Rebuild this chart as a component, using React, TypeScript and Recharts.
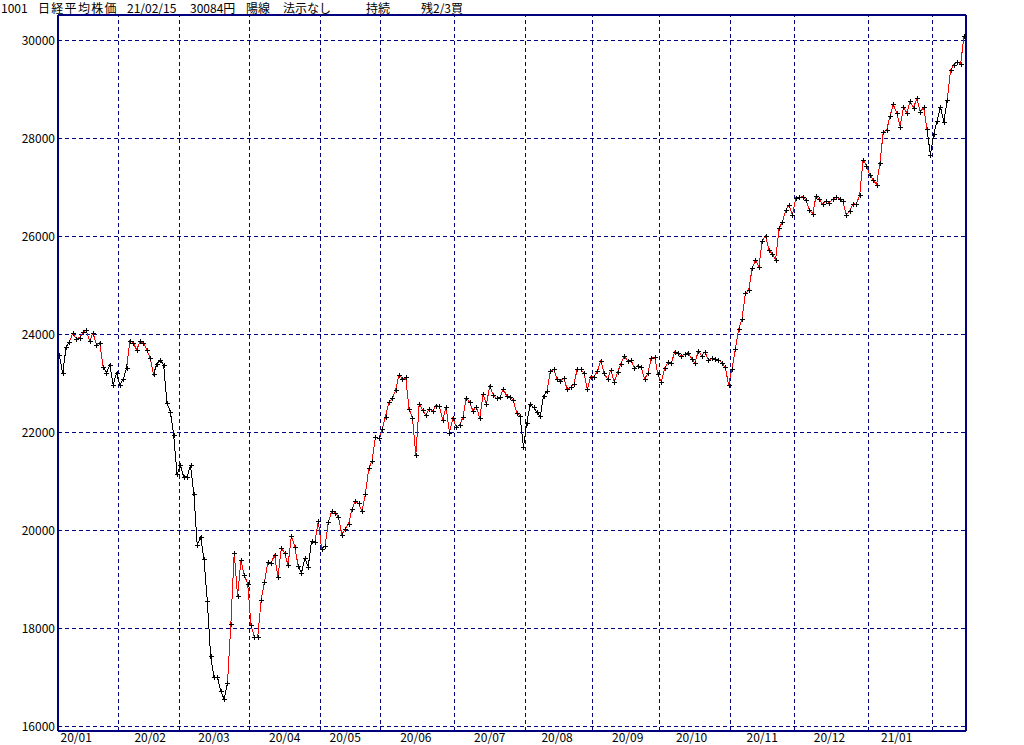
import { LineChart, Line, XAxis, YAxis, CartesianGrid, ReferenceLine } from "recharts";

// Nikkei 225 daily closes, 2020/01/07 .. 2021/02/15, one array per month
const MONTHS = ["20/01", "20/02", "20/03", "20/04", "20/05", "20/06", "20/07", "20/08", "20/09", "20/10", "20/11", "20/12", "21/01", "21/02"];

const DAYS = [
  [7, 8, 9, 10, 14, 15, 16, 17, 20, 21, 22, 23, 24, 27, 28, 29, 30, 31],
  [3, 4, 5, 6, 7, 10, 12, 13, 14, 17, 18, 19, 20, 21, 25, 26, 27, 28],
  [2, 3, 4, 5, 6, 9, 10, 11, 12, 13, 16, 17, 18, 19, 23, 24, 25, 26, 27, 30, 31],
  [1, 2, 3, 6, 7, 8, 9, 10, 13, 14, 15, 16, 17, 20, 21, 22, 23, 24, 27, 28, 30],
  [1, 7, 8, 11, 12, 13, 14, 15, 18, 19, 20, 21, 22, 25, 26, 27, 28, 29],
  [1, 2, 3, 4, 5, 8, 9, 10, 11, 12, 15, 16, 17, 18, 19, 22, 23, 24, 25, 26, 29, 30],
  [1, 2, 3, 6, 7, 8, 9, 10, 13, 14, 15, 16, 17, 20, 21, 22, 27, 28, 29, 30, 31],
  [3, 4, 5, 6, 7, 11, 12, 13, 14, 17, 18, 19, 20, 21, 24, 25, 26, 27, 28, 31],
  [1, 2, 3, 4, 7, 8, 9, 10, 11, 14, 15, 16, 17, 18, 23, 24, 25, 28, 29, 30],
  [2, 5, 6, 7, 8, 9, 12, 13, 14, 15, 16, 19, 20, 21, 22, 23, 26, 27, 28, 29, 30],
  [2, 4, 5, 6, 9, 10, 11, 12, 13, 16, 17, 18, 19, 20, 24, 25, 26, 27, 30],
  [1, 2, 3, 4, 7, 8, 9, 10, 11, 14, 15, 16, 17, 18, 21, 22, 23, 24, 25, 28, 29, 30],
  [4, 5, 6, 7, 8, 12, 13, 14, 15, 18, 19, 20, 21, 22, 25, 26, 27, 28, 29],
  [1, 2, 3, 4, 5, 8, 9, 10, 12, 15],
];

const CLOSES = [
  [23576, 23205, 23740, 23851, 24025, 23917, 23933, 24041, 24084, 23865, 24031, 23795, 23827, 23344, 23216, 23379, 22978, 23205],
  [22972, 23085, 23320, 23874, 23828, 23686, 23861, 23828, 23688, 23523, 23194, 23401, 23479, 23387, 22605, 22426, 21948, 21143],
  [21344, 21083, 21100, 21329, 20750, 19699, 19867, 19416, 18560, 17431, 17002, 17012, 16727, 16553, 16888, 18092, 19547, 18665, 19389, 19085, 18917],
  [18065, 17819, 17820, 18576, 18950, 19353, 19346, 19499, 19043, 19639, 19550, 19290, 19897, 19669, 19281, 19138, 19429, 19262, 19783, 19771, 20194],
  [19619, 19675, 20179, 20391, 20366, 20267, 19915, 20037, 20134, 20433, 20595, 20552, 20388, 20742, 21271, 21419, 21916, 21878],
  [22062, 22326, 22614, 22696, 22864, 23178, 23091, 23125, 22473, 22305, 21531, 22582, 22456, 22355, 22479, 22437, 22549, 22534, 22260, 22512, 21995, 22288],
  [22122, 22146, 22306, 22714, 22615, 22439, 22529, 22291, 22785, 22587, 22946, 22770, 22696, 22717, 22884, 22752, 22716, 22657, 22397, 22339, 21710],
  [22195, 22574, 22515, 22418, 22330, 22750, 22844, 23250, 23289, 23097, 23051, 23111, 22881, 22920, 22986, 23297, 23291, 23209, 22883, 23140],
  [23138, 23247, 23466, 23205, 23090, 23274, 23033, 23235, 23406, 23559, 23455, 23476, 23319, 23360, 23346, 23088, 23205, 23512, 23539, 23185],
  [23030, 23312, 23434, 23423, 23647, 23620, 23559, 23602, 23627, 23507, 23411, 23671, 23567, 23639, 23474, 23517, 23494, 23486, 23419, 23332, 22977],
  [23295, 23695, 24105, 24325, 24840, 24906, 25350, 25521, 25386, 25907, 26015, 25728, 25634, 25527, 26166, 26297, 26537, 26645, 26434],
  [26788, 26801, 26809, 26751, 26547, 26467, 26818, 26756, 26653, 26732, 26688, 26757, 26807, 26763, 26714, 26436, 26525, 26668, 26657, 26854, 27568, 27444],
  [27258, 27159, 27056, 27490, 28139, 28164, 28457, 28698, 28519, 28242, 28633, 28523, 28757, 28631, 28822, 28546, 28635, 28197, 27663],
  [28091, 28362, 28647, 28342, 28779, 29389, 29506, 29563, 29520, 30084],
];

// point index ranges [from, to] where the line is drawn black (red elsewhere)
const BLACK_RUNS = [[0, 3], [13, 20], [28, 50], [71, 76], [78, 79], [137, 145], [258, 264]];

const Y_TICKS = [16000, 18000, 20000, 22000, 24000, 26000, 28000, 30000];
const Y_MIN = 15908;
const Y_MAX = 30520;

const TITLE = ["1001", "日経平均株価", "21/02/15", "30084円", "陽線", "法示なし", "持続", "残2/3買"];
const TITLE_X = [1, 38, 127, 190, 246, 283, 366, 421];

const NAVY = "#000080";
const FONT = "'Noto Sans CJK JP', 'Noto Sans', sans-serif";

const rows = CLOSES.flatMap((vals, m) =>
  vals.map((close, k) => ({ month: MONTHS[m], day: DAYS[m][k], close }))
).map((r, i) => ({ ...r, i }));
const N = rows.length;

const boundaries = rows.filter((r, i) => i > 0 && r.month !== rows[i - 1].month).map((r) => r.i);

const labelTicks = MONTHS.slice(0, -1).map((m) => rows.find((r) => r.month === m && r.day >= 15)!.i);
const labelOf: Record<number, string> = {};
labelTicks.forEach((t) => { labelOf[t] = rows[t].month; });

const isBlack = (seg: number) => BLACK_RUNS.some(([a, b]) => seg >= a && seg < b);
const stops: { off: number; c: string }[] = [];
{
  let cur = isBlack(0) ? "#000000" : "#ff0000";
  stops.push({ off: 0, c: cur });
  for (let s = 1; s < N - 1; s++) {
    const c = isBlack(s) ? "#000000" : "#ff0000";
    if (c !== cur) {
      stops.push({ off: s / (N - 1), c: cur });
      stops.push({ off: s / (N - 1), c });
      cur = c;
    }
  }
  stops.push({ off: 1, c: cur });
}

function PlusDot(props: any) {
  const { cx, cy, index } = props;
  if (cx == null || cy == null) return null;
  const x = Math.round(cx);
  const y = Math.round(cy);
  return (
    <path
      key={`d${index}`}
      d={`M${x - 2} ${y + 0.5}h5M${x + 0.5} ${y - 2}v5`}
      stroke="#000"
      strokeWidth={1}
      fill="none"
      shapeRendering="crispEdges"
    />
  );
}

const tickStyle = { fill: "#000", fontSize: 12, fontFamily: FONT };

export default function App() {
  return (
    <div className="nk" style={{ position: "absolute", left: 0, top: 0, width: 1024, height: 745, background: "#fff", overflow: "hidden" }}>
      <style>{`.nk svg line { shape-rendering: crispEdges; } .nk .recharts-line-curve { shape-rendering: crispEdges; }`}</style>
      {TITLE.map((t, k) => (
        <span
          key={k}
          style={{
            position: "absolute", left: TITLE_X[k], top: 2, fontSize: 12, lineHeight: "12px",
            letterSpacing: k === 1 ? 1.3 : 0, fontFamily: FONT, color: "#000", whiteSpace: "nowrap",
          }}
        >
          {t}
        </span>
      ))}
      <LineChart width={1024} height={745} data={rows} margin={{ top: 15, right: 0, bottom: 0, left: 0 }}>
        <defs>
          <linearGradient id="trend" x1="0" y1="0" x2="1" y2="0">
            {stops.map((s, k) => (
              <stop key={k} offset={s.off} stopColor={s.c} />
            ))}
          </linearGradient>
        </defs>
        <CartesianGrid yAxisId="l" vertical={false} stroke={NAVY} strokeDasharray="4 3" />
        <XAxis
          dataKey="i"
          type="number"
          domain={[-0.4, N - 1 + 0.6]}
          ticks={labelTicks}
          interval={0}
          tickFormatter={(v) => labelOf[v] ?? ""}
          tick={tickStyle}
          tickLine={false}
          tickSize={0}
          tickMargin={2}
          axisLine={{ stroke: NAVY, strokeWidth: 2 }}
          height={14}
        />
        <YAxis
          yAxisId="l"
          orientation="left"
          domain={[Y_MIN, Y_MAX]}
          ticks={Y_TICKS}
          interval={0}
          tick={tickStyle}
          tickLine={false}
          tickSize={0}
          tickMargin={3}
          axisLine={{ stroke: NAVY, strokeWidth: 2 }}
          width={58}
        />
        <YAxis
          yAxisId="r"
          orientation="right"
          domain={[Y_MIN, Y_MAX]}
          ticks={Y_TICKS}
          interval={0}
          tick={tickStyle}
          tickLine={false}
          tickSize={0}
          tickMargin={2}
          axisLine={{ stroke: NAVY, strokeWidth: 2 }}
          width={58}
        />
        <ReferenceLine yAxisId="l" y={Y_MAX} stroke={NAVY} strokeWidth={2} />
        {boundaries.map((b) => (
          <ReferenceLine key={b} yAxisId="l" x={b - 0.4} stroke={NAVY} strokeDasharray="4 3" />
        ))}
        <Line
          yAxisId="l"
          dataKey="close"
          type="linear"
          stroke="url(#trend)"
          strokeWidth={1}
          dot={PlusDot}
          activeDot={false}
          isAnimationActive={false}
        />
      </LineChart>
    </div>
  );
}
